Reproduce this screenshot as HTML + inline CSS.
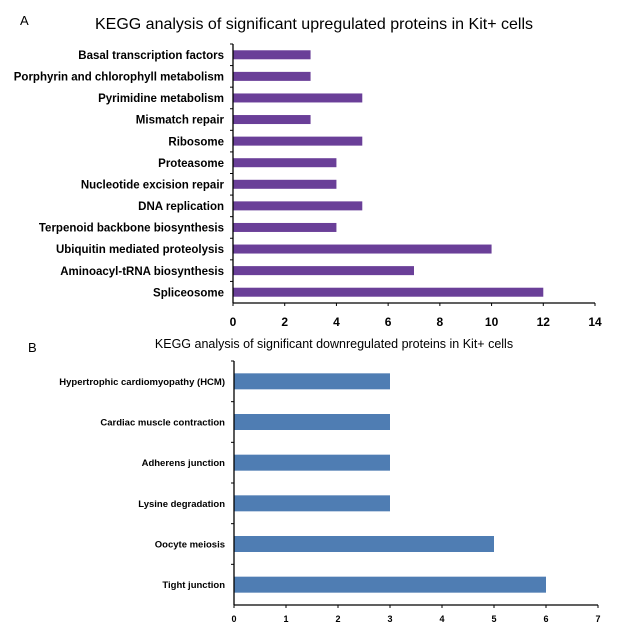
<!DOCTYPE html>
<html><head><meta charset="utf-8"><style>
body{margin:0;background:#fff;}
svg text{font-family:"Liberation Sans",sans-serif;}
</style></head><body>
<svg id="svg" width="618" height="629" xmlns="http://www.w3.org/2000/svg">
<text x="20" y="25" font-family="Liberation Serif" font-size="13">A</text>
<text x="314" y="29" text-anchor="middle" font-size="16">KEGG analysis of significant upregulated proteins in Kit+ cells</text>
<text x="28" y="352" font-family="Liberation Serif" font-size="13">B</text>
<text x="334" y="348" text-anchor="middle" font-size="12.5">KEGG analysis of significant downregulated proteins in Kit+ cells</text>
<g id="ga"></g>
<g id="gb"></g>
</svg>
<script>
const catsA=["Basal transcription factors","Porphyrin and chlorophyll metabolism","Pyrimidine metabolism","Mismatch repair","Ribosome","Proteasome","Nucleotide excision repair","DNA replication","Terpenoid backbone biosynthesis","Ubiquitin mediated proteolysis","Aminoacyl-tRNA biosynthesis","Spliceosome"];
const valsA=[3,3,5,3,5,4,4,5,4,10,7,12];
const ticksA=[0,2,4,6,8,10,12,14];
const catsB=["Hypertrophic cardiomyopathy (HCM)","Cardiac muscle contraction","Adherens junction","Lysine degradation","Oocyte meiosis","Tight junction"];
const valsB=[3,3,3,3,5,6];
const ticksB=[0,1,2,3,4,5,6,7];
const NS="http://www.w3.org/2000/svg";
function mk(p,t,a){const e=document.createElementNS(NS,t);for(const k in a)e.setAttribute(k,a[k]);p.appendChild(e);return e;}
function draw(g,cats,vals,ticks,o){
  const x=v=>o.x0+(v-ticks[0])/(ticks[ticks.length-1]-ticks[0])*(o.x1-o.x0);
  const band=(o.yb-o.yt)/cats.length;
  cats.forEach((c,i)=>{
    const cy=o.yt+band*(i+0.5);
    const r=mk(g,'rect',{x:x(0),y:cy-o.bh/2,width:x(vals[i])-x(0),height:o.bh,fill:o.color});
    
    
    const t=mk(g,'text',{x:o.x0-9,y:cy+o.fs*0.36,'text-anchor':'end','font-size':o.fs,'font-weight':'bold'});
    t.textContent=c;
    
    
    mk(g,'line',{x1:o.x0-3,x2:o.x0,y1:o.yt+band*i,y2:o.yt+band*i,stroke:'#000','stroke-width':1});
  });
  mk(g,'line',{x1:o.x0,x2:o.x0,y1:o.yt,y2:o.yb,stroke:'#000','stroke-width':1.3});
  mk(g,'line',{x1:o.x0,x2:o.x1,y1:o.yb,y2:o.yb,stroke:'#000','stroke-width':1.3});
  ticks.forEach(v=>{
    mk(g,'line',{x1:x(v),x2:x(v),y1:o.yb,y2:o.yb+3,stroke:'#000','stroke-width':1});
    const t=mk(g,'text',{x:x(v),y:o.ty,'text-anchor':'middle','font-size':o.tfs,'font-weight':'bold'});
    t.textContent=v;
    
    
  });
}
draw(document.getElementById('ga'),catsA,valsA,ticksA,{x0:233,x1:595,yt:44,yb:303,bh:9,color:'#6a3f98',fs:11.5,tfs:12,ty:326});
draw(document.getElementById('gb'),catsB,valsB,ticksB,{x0:234,x1:598,yt:361,yb:605,bh:16,color:'#4f7db3',fs:9.5,tfs:9,ty:622});
</script>
</body></html>
